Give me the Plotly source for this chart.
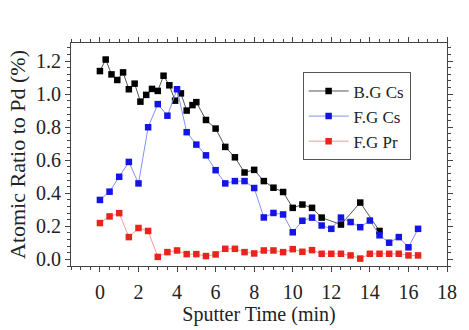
import plotly.graph_objects as go

# Sputter depth profile: atomic ratio of Cs / Pr relative to Pd
bg_cs_time = [0, 0.3, 0.6, 0.9, 1.2, 1.5, 1.8, 2.1, 2.4, 2.7, 3.0, 3.3, 3.6, 3.9, 4.2, 4.5,
              4.8, 5.0, 5.5, 6.0, 6.5, 7.0, 7.5, 8.0, 8.5, 9.0, 9.5, 10.0, 10.5, 11.0, 11.5,
              12.5, 13.5, 14.5]
bg_cs_ratio = [1.14, 1.21, 1.12, 1.086, 1.132, 1.03, 1.064, 0.955, 0.996, 1.032, 1.02, 1.112,
               1.054, 0.961, 1.005, 0.901, 0.934, 0.952, 0.844, 0.792, 0.681, 0.618, 0.526,
               0.542, 0.474, 0.434, 0.408, 0.312, 0.332, 0.312, 0.253, 0.211, 0.344, 0.172]

fg_time = [0, 0.5, 1.0, 1.5, 2.0, 2.5, 3.0, 3.5, 4.0, 4.5, 5.0, 5.5, 6.0, 6.5, 7.0, 7.5, 8.0,
           8.5, 9.0, 9.5, 10.0, 10.5, 11.0, 11.5, 12.0, 12.5, 13.0, 13.5, 14.0, 14.5, 15.0,
           15.5, 16.0, 16.5]
fg_cs_ratio = [0.36, 0.41, 0.50, 0.59, 0.46, 0.80, 0.94, 0.87, 1.03, 0.77, 0.695, 0.63, 0.54,
               0.46, 0.474, 0.474, 0.432, 0.254, 0.281, 0.272, 0.164, 0.234, 0.253, 0.205,
               0.185, 0.253, 0.226, 0.195, 0.235, 0.146, 0.101, 0.135, 0.073, 0.185]
fg_pr_ratio = [0.22, 0.26, 0.28, 0.135, 0.19, 0.172, 0.015, 0.044, 0.054, 0.032, 0.032, 0.02,
               0.03, 0.064, 0.064, 0.044, 0.036, 0.054, 0.054, 0.044, 0.062, 0.046, 0.056,
               0.034, 0.034, 0.034, 0.024, 0.005, 0.034, 0.034, 0.034, 0.034, 0.024, 0.024]

series_names = ["B.G Cs", "F.G Cs", "F.G Pr"]
x_ticks = [0, 2, 4, 6, 8, 10, 12, 14, 16, 18]
y_ticks = [0.0, 0.2, 0.4, 0.6, 0.8, 1.0, 1.2]

FONT = "Liberation Serif"
TXT = "#222222"

fig = go.Figure()
styles = [
    (bg_cs_time, bg_cs_ratio, "#555555", "#000000"),
    (fg_time, fg_cs_ratio, "#8592f0", "#1414e6"),
    (fg_time, fg_pr_ratio, "#f09a9a", "#e8241c"),
]
for name, (xs, ys, lc, mc) in zip(series_names, styles):
    fig.add_trace(go.Scatter(
        x=xs, y=ys, name=name, mode="lines+markers",
        line=dict(color=lc, width=1),
        marker=dict(symbol="square", size=6.5, color=mc, line=dict(width=0)),
    ))

axis_common = dict(
    showline=True, linecolor="#444444", linewidth=1, mirror="allticks",
    ticks="outside", ticklen=5, tickcolor="#444444", showgrid=False, zeroline=False,
    tickfont=dict(family=FONT, size=20, color=TXT),
)
fig.update_xaxes(
    range=[-1.5, 18], tickvals=x_ticks, ticktext=[str(v) for v in x_ticks],
    ticklabelstandoff=3,
    title=dict(text="Sputter Time (min)", font=dict(family=FONT, size=20, color=TXT), standoff=1),
    minor=dict(dtick=0.5, ticklen=3, ticks="outside", tickcolor="#444444"),
    **axis_common,
)
fig.update_yaxes(
    range=[-0.04, 1.31], tickvals=y_ticks, ticktext=[f"{v:.1f}" for v in y_ticks],
    title=dict(text="Atomic Ratio to Pd (%)", font=dict(family=FONT, size=22, color=TXT), standoff=4),
    minor=dict(dtick=0.04, ticklen=3, ticks="outside", tickcolor="#444444"),
    **axis_common,
)

# 10 nm depth marker above the plot
fig.add_annotation(
    x=4, y=1.372, ax=0, ay=1.372, xref="x", yref="y", axref="x", ayref="y",
    showarrow=True, arrowhead=2, startarrowhead=2, arrowside="end+start",
    arrowsize=1, startarrowsize=1, arrowwidth=2.5, arrowcolor="#111111", text="",
)
fig.add_annotation(
    x=2, y=1.46, xref="x", yref="y", text="10nm", showarrow=False,
    font=dict(family=FONT, size=18, color=TXT),
)

fig.update_layout(
    width=469, height=330,
    margin=dict(l=71, r=15, t=43, b=57),
    paper_bgcolor="white", plot_bgcolor="white",
    showlegend=True,
    legend=dict(
        x=0.616, y=0.868, xanchor="left", yanchor="top",
        bordercolor="#555555", borderwidth=1, bgcolor="white",
        font=dict(family=FONT, size=17, color=TXT),
        itemwidth=40, tracegroupgap=0,
    ),
)

fig.write_html("out.html")
